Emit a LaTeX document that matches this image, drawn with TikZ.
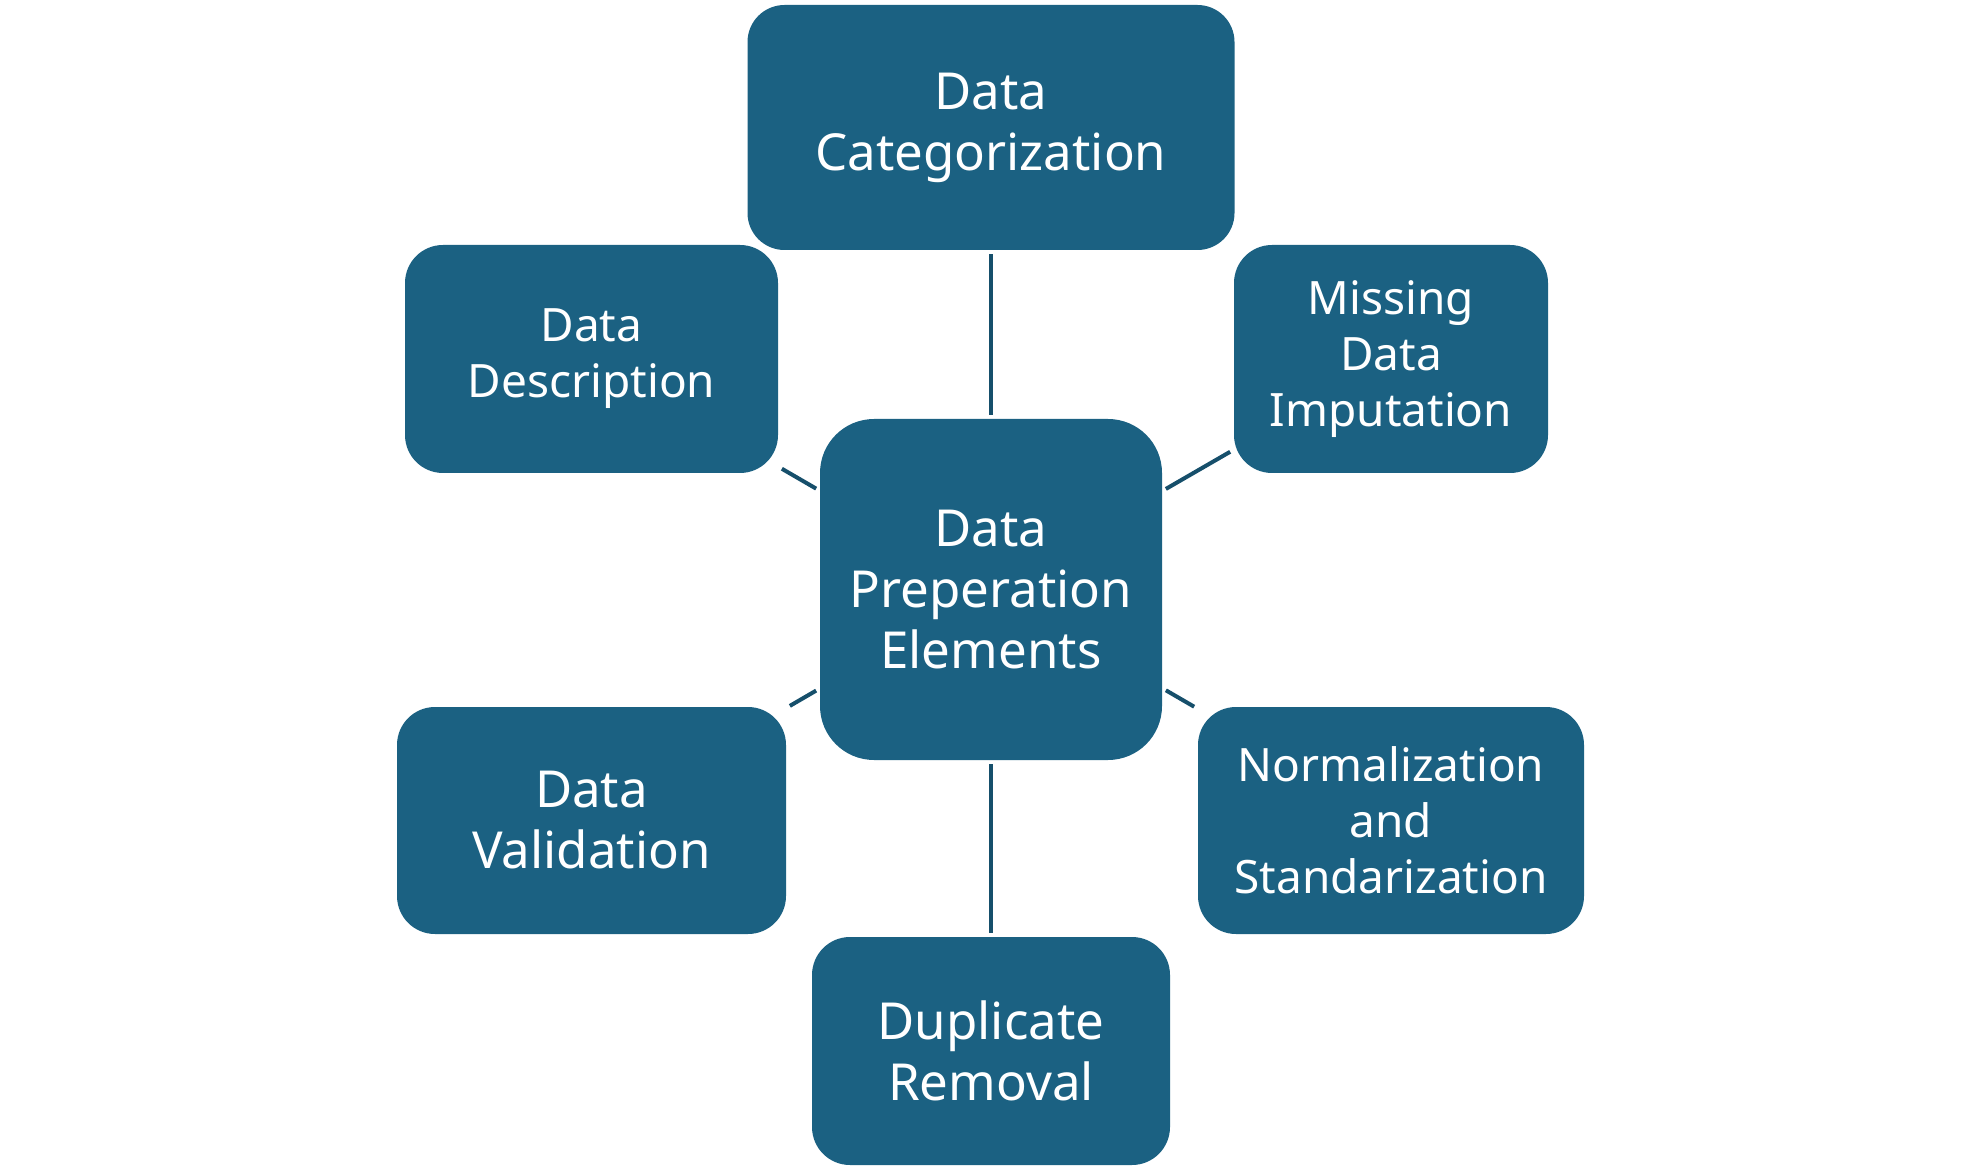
\documentclass[tikz,border=0pt]{standalone}
\usepackage{fontspec}
\setmainfont{Noto Sans}
\definecolor{boxfill}{RGB}{27,97,130}
\definecolor{linkcol}{RGB}{22,79,107}
\begin{document}
\begin{tikzpicture}[x=0.5pt,y=-0.5pt,
  box/.style={rectangle, fill=boxfill, text=white, align=center, inner sep=0pt,
    rounded corners=19pt, font=\fontsize{23}{28}\selectfont},
  bigbox/.style={box, font=\fontsize{25.5}{30.5}\selectfont},
  link/.style={draw=linkcol, line width=2pt, shorten <=2pt, shorten >=2pt}]
\useasboundingbox (0,0) rectangle (1980,1170);
\node[bigbox, minimum width=243.5pt, minimum height=122.5pt, rounded corners=18.5pt] (cat) at (991,127.5) {Data\\Categorization};
\node[box, minimum width=186.5pt, minimum height=114pt] (desc) at (591.5,359) {Data\\Description};
\node[box, minimum width=157pt, minimum height=114pt] (miss) at (1391,359) {Missing\\Data\\Imputation};
\node[bigbox, minimum width=171pt, minimum height=170.5pt, rounded corners=27pt] (core) at (991,589.5) {Data\\Preperation\\Elements};
\node[bigbox, minimum width=194.5pt, minimum height=113.5pt] (valid) at (591.5,820.5) {Data\\Validation};
\node[box, minimum width=193pt, minimum height=113.5pt] (norm) at (1391,820.5) {Normalization\\and\\Standarization};
\node[bigbox, minimum width=179pt, minimum height=114pt] (dup) at (991,1051) {Duplicate\\Removal};
\draw[link] (cat) -- (core);
\draw[link] (desc) -- (core);
\draw[link] (miss) -- (core);
\draw[link] (valid) -- (core);
\draw[link] (norm) -- (core);
\draw[link] (dup) -- (core);
\end{tikzpicture}
\end{document}
